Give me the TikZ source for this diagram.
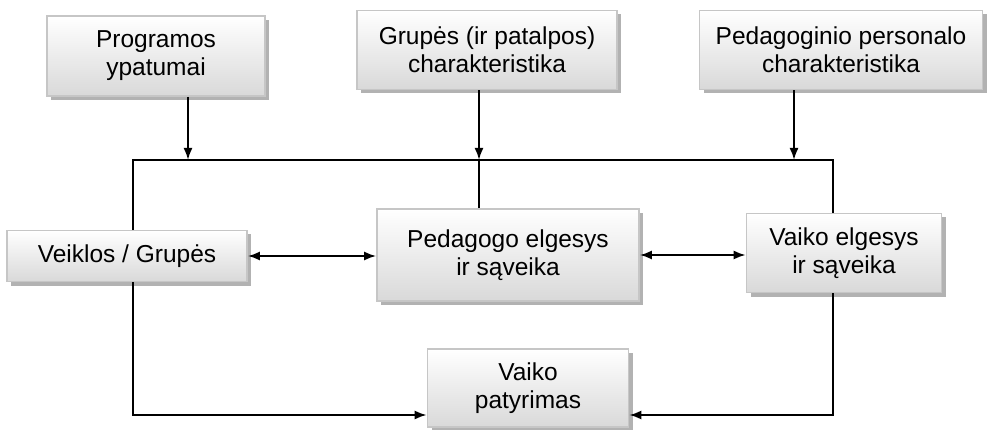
\documentclass[tikz,border=0pt]{standalone}
\usepackage{fontspec}
\setmainfont{Liberation Sans}
\usetikzlibrary{arrows.meta,shadows}

\begin{document}
\begin{tikzpicture}[
  x=1pt, y=-1pt,
  box/.style={draw=gray!45, line width=1.6pt, top color=white, bottom color=gray!30,
    drop shadow={shadow xshift=4pt, shadow yshift=-4pt, fill=gray!60, opacity=1},
    inner sep=0pt, align=center, font=\fontsize{24.5}{28}\selectfont},
  link/.style={line width=2pt},
  arr/.style={link, -{Latex[length=12pt,width=9pt]}},
  dbl/.style={link, {Latex[length=12pt,width=9pt]}-{Latex[length=12pt,width=9pt]}}
]
  \useasboundingbox (0,0) rectangle (990,430);

  \node[box, minimum width=218pt, minimum height=80pt] (prog) at (156,56) {Programos\\ypatumai};
  \node[box, minimum width=260pt, minimum height=79pt] (grup) at (487,50) {Grupės (ir patalpos)\\charakteristika};
  \node[box, minimum width=283pt, minimum height=79pt] (pers) at (841,50) {Pedagoginio personalo\\charakteristika};
  \node[box, minimum width=240pt, minimum height=51pt] (veik) at (127,256) {Veiklos / Grupės};
  \node[box, minimum width=262pt, minimum height=92pt] (ped) at (508,255) {Pedagogo elgesys\\ir sąveika};
  \node[box, minimum width=195pt, minimum height=79pt] (vaik) at (844,253) {Vaiko elgesys\\ir sąveika};
  \node[box, minimum width=201pt, minimum height=78pt] (pat) at (528,388) {Vaiko\\patyrimas};

  \coordinate (busL) at (133,160);
  \coordinate (busR) at (833,160);
  \coordinate (inP) at (188,160);
  \coordinate (inG) at (479,160);
  \coordinate (inS) at (794,160);
  \coordinate (low) at (0,415);

  \draw[arr] (prog.south -| inP) -- (inP);
  \draw[arr] (grup.south -| inG) -- (inG);
  \draw[arr] (pers.south -| inS) -- (inS);
  \draw[link] (veik.north -| busL) -- (busL) -- (busR) -- (vaik.north -| busR);
  \draw[link] (inG) -- (ped.north -| inG);
  \draw[dbl] (veik.east) -- (ped.west |- veik.east);
  \draw[dbl] (ped.east) -- (vaik.west |- ped.east);
  \draw[arr] (veik.south -| busL) |- (pat.west |- low);
  \draw[arr] (vaik.south -| busR) |- (pat.east |- low);
\end{tikzpicture}
\end{document}
